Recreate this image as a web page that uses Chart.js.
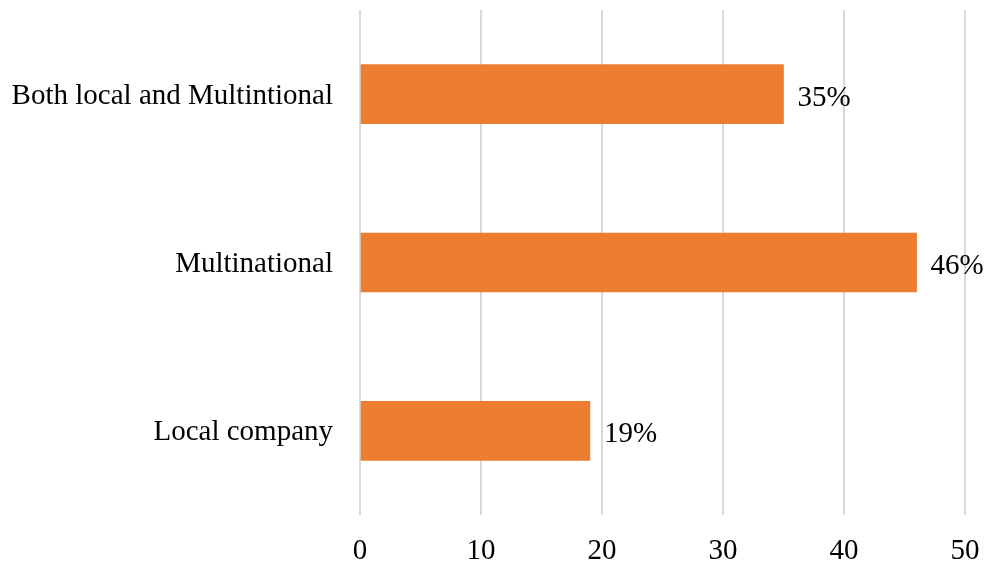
<!DOCTYPE html>
<html>
<head>
<meta charset="utf-8">
<script src="https://cdn.jsdelivr.net/npm/chart.js@4"></script>
<style>
  html, body { margin: 0; padding: 0; background: #fff; }
  #wrap { width: 989px; height: 562px; }
</style>
</head>
<body>
<div id="wrap"><canvas id="chart"></canvas></div>
<script>
'use strict';

const categories = ['Both local and Multintional', 'Multinational', 'Local company'];
const shares     = [35, 46, 19];
const xTicks     = [0, 10, 20, 30, 40, 50];

const FONT = "'Liberation Serif', 'Times New Roman', serif";

// labels drawn just past the end of each bar
const barLabels = {
    id: 'barLabels',
    afterDatasetsDraw(chart) {
        const ctx  = chart.ctx;
        const meta = chart.getDatasetMeta(0);
        ctx.save();
        ctx.font = `29px ${FONT}`;
        ctx.fillStyle = '#000';
        ctx.textAlign = 'left';
        ctx.textBaseline = 'middle';
        meta.data.forEach((bar, i) => {
            ctx.fillText(shares[i] + '%', bar.x + 14, bar.y + 4);
        });
        ctx.restore();
    }
};

new Chart(document.getElementById('chart'), {
    type: 'bar',
    data: {
        labels: categories,
        datasets: [{ data: shares, backgroundColor: '#ED7D31', barThickness: 59 }]
    },
    options: {
        indexAxis: 'y',
        responsive: true,
        maintainAspectRatio: false,
        animation: false,
        layout: { padding: { top: 10, right: 24, left: 0, bottom: 0 } },
        plugins: { legend: { display: false }, tooltip: { enabled: false } },
        scales: {
            x: {
                min: 0, max: 50,
                afterBuildTicks: axis => { axis.ticks = xTicks.map(v => ({ value: v })); },
                afterFit: axis => { axis.height = 47; axis.paddingLeft = 0; axis.paddingRight = 0; },
                border: { display: false },
                grid: { color: '#d9d9d9', lineWidth: 2, drawTicks: false },
                ticks: { color: '#000', font: { family: FONT, size: 29 }, padding: 19 }
            },
            y: {
                afterFit: axis => { axis.width = 360; axis.paddingTop = 0; axis.paddingBottom = 0; },
                border: { display: false },
                grid: { display: false },
                ticks: { color: '#000', font: { family: FONT, size: 29 }, padding: 19, labelOffset: 2 }
            }
        }
    },
    plugins: [barLabels]
});
</script>
</body>
</html>
